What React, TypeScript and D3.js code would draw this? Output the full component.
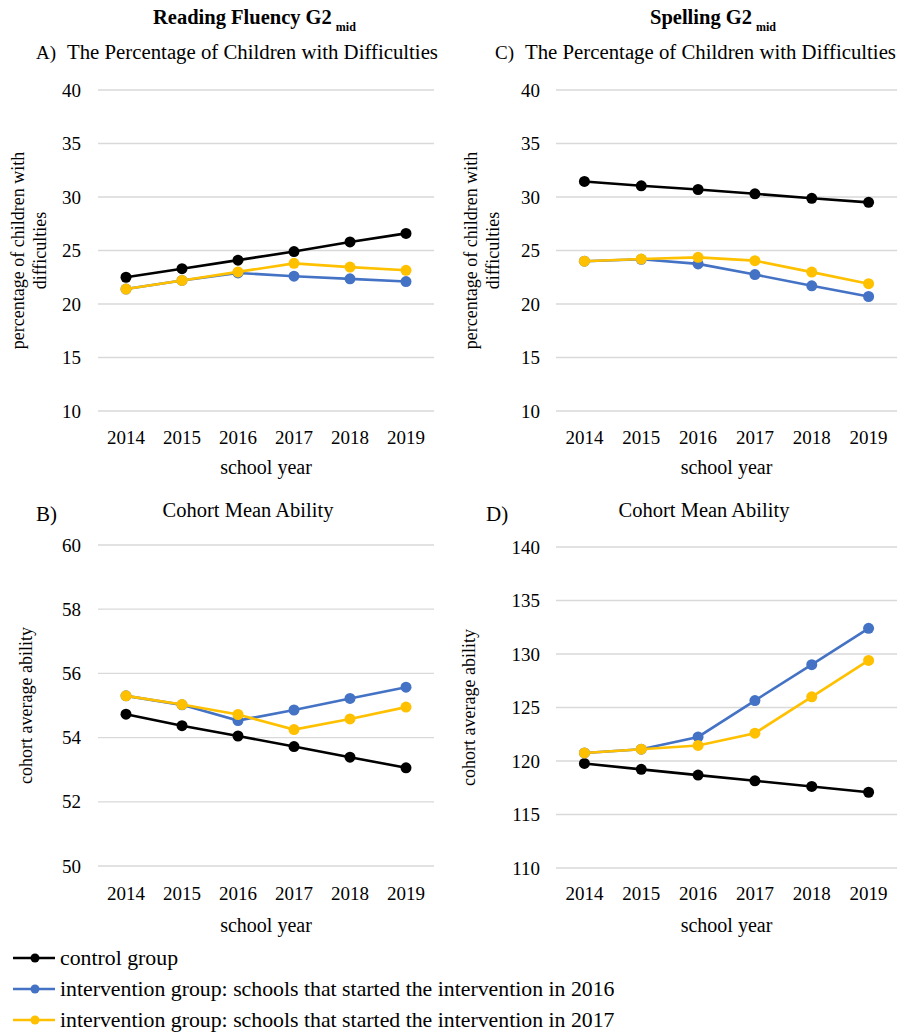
import React from 'react';
import * as d3 from 'd3';

const years = ['2014', '2015', '2016', '2017', '2018', '2019'];

// A) reading fluency, % with difficulties
const readingPctControl = [22.5, 23.3, 24.1, 24.9, 25.8, 26.6];
const readingPct2016 = [21.4, 22.2, 22.9, 22.6, 22.35, 22.1];
const readingPct2017 = [21.4, 22.2, 23.0, 23.8, 23.45, 23.15];

// C) spelling, % with difficulties
const spellingPctControl = [31.45, 31.05, 30.7, 30.3, 29.88, 29.5];
const spellingPct2016 = [24.0, 24.18, 23.75, 22.75, 21.7, 20.7];
const spellingPct2017 = [24.0, 24.2, 24.36, 24.05, 22.98, 21.9];

// B) reading fluency, cohort mean ability
const readingAbilityControl = [54.73, 54.37, 54.05, 53.72, 53.39, 53.06];
const readingAbility2016 = [55.3, 55.02, 54.53, 54.86, 55.22, 55.57];
const readingAbility2017 = [55.3, 55.03, 54.72, 54.25, 54.58, 54.95];

// D) spelling, cohort mean ability
const spellingAbilityControl = [119.77, 119.22, 118.68, 118.15, 117.62, 117.08];
const spellingAbility2016 = [120.75, 121.1, 122.25, 125.65, 129.0, 132.4];
const spellingAbility2017 = [120.75, 121.1, 121.45, 122.6, 126.0, 129.4];

const pctTicks = [10, 15, 20, 25, 30, 35, 40];
const readingAbilityTicks = [50, 52, 54, 56, 58, 60];
const spellingAbilityTicks = [110, 115, 120, 125, 130, 135, 140];

const seriesNames = [
  'control group',
  'intervention group: schools that started the intervention in 2016',
  'intervention group: schools that started the intervention in 2017',
];
const colors = ['#000000', '#4472C4', '#FFC000'];

const FONT = '"Liberation Serif", "DejaVu Serif", serif';

type PanelProps = {
  x0: number;
  x1: number;
  yTop: number;
  yBottom: number;
  ticks: number[];
  series: number[][];
  tickLabelX: number;
  yearLabelY: number;
  axisTitleY: number;
  yTitle: string[];
  yTitleX: number;
};

function Panel(p: PanelProps) {
  const x = d3.scaleBand().domain(years).range([p.x0, p.x1]);
  const y = d3
    .scaleLinear()
    .domain([p.ticks[0], p.ticks[p.ticks.length - 1]])
    .range([p.yBottom, p.yTop]);
  const cx = (i: number) => (x(years[i]) as number) + x.bandwidth() / 2;
  const line = d3
    .line<number>()
    .x((_d, i) => cx(i))
    .y((d) => y(d));
  const yMid = (p.yTop + p.yBottom) / 2;
  const xMid = (p.x0 + p.x1) / 2;
  return (
    <g>
      {p.ticks.map((t) => (
        <g key={t}>
          <line x1={p.x0} x2={p.x1} y1={y(t)} y2={y(t)} stroke="#d9d9d9" strokeWidth={1.3} />
          <text x={p.tickLabelX} y={y(t)} dy="0.35em" textAnchor="end" fontSize={19}>
            {t}
          </text>
        </g>
      ))}
      {years.map((yr) => (
        <text key={yr} x={(x(yr) as number) + x.bandwidth() / 2} y={p.yearLabelY} textAnchor="middle" fontSize={19}>
          {yr}
        </text>
      ))}
      <text x={xMid} y={p.axisTitleY} textAnchor="middle" fontSize={20}>
        school year
      </text>
      <text transform={`translate(${p.yTitleX},${yMid}) rotate(-90)`} textAnchor="middle" fontSize={18}>
        {p.yTitle.map((s, i) => (
          <tspan key={i} x={0} dy={i === 0 ? 0 : 22}>
            {s}
          </tspan>
        ))}
      </text>
      {p.series.map((s, si) => (
        <g key={si}>
          <path d={line(s) as string} fill="none" stroke={colors[si]} strokeWidth={2.6} />
          {s.map((v, i) => (
            <circle key={i} cx={cx(i)} cy={y(v)} r={5.5} fill={colors[si]} />
          ))}
        </g>
      ))}
    </g>
  );
}

export default function App() {
  return (
    <svg width={899} height={1032} style={{ display: 'block', position: 'absolute', left: 0, top: 0 }} fontFamily={FONT}>
      <rect width={899} height={1032} fill="#fff" />
      {/* headers */}
      <text x={153} y={24} fontSize={20.5} fontWeight="bold">
        Reading Fluency G2
        <tspan fontSize={12} dx={4} dy={7}>mid</tspan>
      </text>
      <text x={650} y={24} fontSize={20.5} fontWeight="bold">
        Spelling G2
        <tspan fontSize={12} dx={4} dy={7}>mid</tspan>
      </text>
      <text x={36} y={59} fontSize={19}>A)</text>
      <text x={67} y={59} fontSize={20.8}>The Percentage of Children with Difficulties</text>
      <text x={495} y={59} fontSize={19}>C)</text>
      <text x={525} y={59} fontSize={20.8}>The Percentage of Children with Difficulties</text>
      <text x={36} y={521} fontSize={21}>B)</text>
      <text x={248} y={517} textAnchor="middle" fontSize={20.5}>Cohort Mean Ability</text>
      <text x={486} y={521} fontSize={21}>D)</text>
      <text x={704} y={517} textAnchor="middle" fontSize={20.5}>Cohort Mean Ability</text>

      <Panel
        x0={98}
        x1={434}
        yTop={90}
        yBottom={411}
        ticks={pctTicks}
        series={[readingPctControl, readingPct2016, readingPct2017]}
        tickLabelX={81}
        yearLabelY={444}
        axisTitleY={474}
        yTitle={['percentage of children with', 'difficulties']}
        yTitleX={24}
      />
      <Panel
        x0={556}
        x1={897}
        yTop={90}
        yBottom={411}
        ticks={pctTicks}
        series={[spellingPctControl, spellingPct2016, spellingPct2017]}
        tickLabelX={540}
        yearLabelY={444}
        axisTitleY={474}
        yTitle={['percentage of children with', 'difficulties']}
        yTitleX={477}
      />
      <Panel
        x0={98}
        x1={434}
        yTop={545}
        yBottom={866}
        ticks={readingAbilityTicks}
        series={[readingAbilityControl, readingAbility2016, readingAbility2017]}
        tickLabelX={81}
        yearLabelY={900}
        axisTitleY={932}
        yTitle={['cohort average ability']}
        yTitleX={32}
      />
      <Panel
        x0={556}
        x1={897}
        yTop={547}
        yBottom={868}
        ticks={spellingAbilityTicks}
        series={[spellingAbilityControl, spellingAbility2016, spellingAbility2017]}
        tickLabelX={540}
        yearLabelY={900}
        axisTitleY={932}
        yTitle={['cohort average ability']}
        yTitleX={475}
      />

      {/* legend */}
      {seriesNames.map((name, i) => {
        const ly = 958 + i * 31;
        return (
          <g key={name}>
            <line x1={13} x2={55} y1={ly} y2={ly} stroke={colors[i]} strokeWidth={2.6} />
            <circle cx={35} cy={ly} r={4.5} fill={colors[i]} />
            <text x={60} y={ly} dy="0.33em" fontSize={21.8}>
              {name}
            </text>
          </g>
        );
      })}
    </svg>
  );
}
